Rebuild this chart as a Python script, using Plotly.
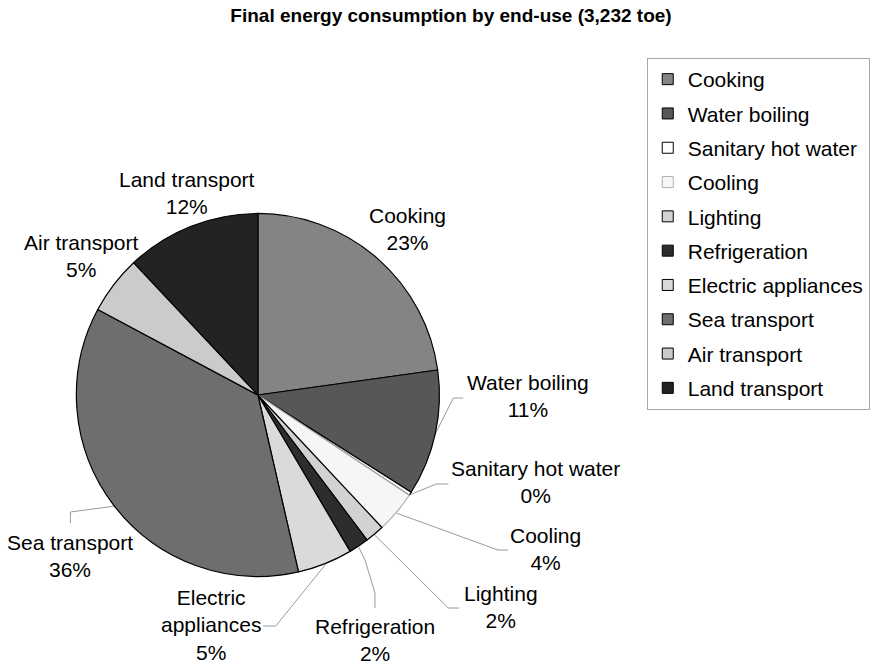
import math
import plotly.graph_objects as go

# Final energy consumption by end-use, in toe
labels = ["Cooking", "Water boiling", "Sanitary hot water", "Cooling", "Lighting",
          "Refrigeration", "Electric appliances", "Sea transport", "Air transport",
          "Land transport"]
values_toe = [737, 362, 10, 120, 55, 58, 158, 1176, 168, 388]
colors = ["#848484", "#575757", "#ffffff", "#f6f6f6", "#d2d2d2",
          "#2d2d2d", "#dadada", "#6e6e6e", "#cbcbcb", "#232323"]
edge_colors = ["#000000", "#000000", "#000000", "#b0b0b0", "#000000",
               "#000000", "#000000", "#000000", "#000000", "#000000"]
# Label text (line breaks) shown beside each slice
label_text = {"Electric appliances": "Electric<br>appliances"}

W, H = 870, 664
CX, CY, R = 260, 395, 183  # pie centre and radius in pixels

# label centre (px) and leader-line bend points (px) per slice
label_pos = {
    "Cooking": (411, 229, []),
    "Water boiling": (532, 396, [(457, 398), (467, 398)]),
    "Sanitary hot water": (540, 482, [(440, 484), (452, 484)]),
    "Cooling": (550, 549, [(502, 550), (512, 550)]),
    "Lighting": (505, 607, [(452, 608), (463, 608)]),
    "Refrigeration": (378, 640, [(368, 560), (378, 593), (378, 608)]),
    "Electric appliances": (213, 625, [(278, 626), (265, 626)]),
    "Sea transport": (71, 556, [(71, 512), (71, 523)]),
    "Air transport": (82, 256, []),
    "Land transport": (189, 193, []),
}

total = sum(values_toe)
font_family = "Liberation Sans, Arial, sans-serif"

fig = go.Figure()
fig.add_trace(go.Pie(
    labels=labels, values=values_toe, sort=False, direction="clockwise",
    marker=dict(colors=colors, line=dict(color=edge_colors, width=1.2)),
    textinfo="none", hoverinfo="label+value+percent",
    domain=dict(x=[(CX - R) / W, (CX + R) / W], y=[1 - (CY + R) / H, 1 - (CY - R) / H]),
    showlegend=False,
))

# leader lines and slice labels
cum = 0.0
annotations = []
for lab, v in zip(labels, values_toe):
    frac = v / total
    mid = cum + frac / 2
    cum += frac
    theta = 2 * math.pi * mid
    ex, ey = CX + R * math.sin(theta), CY - R * math.cos(theta)
    tx, ty, bends = label_pos[lab]
    if bends:
        xs = [ex] + [p[0] for p in bends]
        ys = [ey] + [p[1] for p in bends]
        fig.add_trace(go.Scatter(x=xs, y=ys, mode="lines", showlegend=False,
                                 hoverinfo="skip", line=dict(color="#9a9a9a", width=1)))
    pct = round(frac * 100)
    annotations.append(dict(
        x=tx, y=ty, xref="x", yref="y", showarrow=False,
        text=f"{label_text.get(lab, lab)}<br>{pct}%",
        font=dict(size=21, color="#000000", family=font_family),
        xanchor="center", yanchor="middle", align="center"))

# legend entries: one square swatch per slice
for lab, c, ec in zip(labels, colors, edge_colors):
    fig.add_trace(go.Scatter(
        x=[None], y=[None], mode="markers", name=lab, legendgroup=lab,
        marker=dict(symbol="square", size=11, color=c, line=dict(color=ec, width=1)),
        hoverinfo="skip"))

fig.update_layout(
    width=W, height=H,
    margin=dict(l=0, r=0, t=0, b=0),
    paper_bgcolor="white", plot_bgcolor="rgba(0,0,0,0)",
    title=dict(text="<b>Final energy consumption by end-use (3,232 toe)</b>",
               x=451 / W, y=1 - 15 / H, xanchor="center", yanchor="middle",
               font=dict(size=19, color="#000000", family=font_family)),
    xaxis=dict(range=[0, W], visible=False, fixedrange=True, domain=[0, 1]),
    yaxis=dict(range=[H, 0], visible=False, fixedrange=True, domain=[0, 1]),
    legend=dict(x=652 / W, y=1 - 58 / H, xanchor="left", yanchor="top",
                bgcolor="white", bordercolor="#a8a8a8", borderwidth=1,
                tracegroupgap=4, itemclick=False, itemdoubleclick=False,
                font=dict(size=21, color="#000000", family=font_family)),
    annotations=annotations,
    font=dict(family=font_family),
)

fig.write_html("out.html")
